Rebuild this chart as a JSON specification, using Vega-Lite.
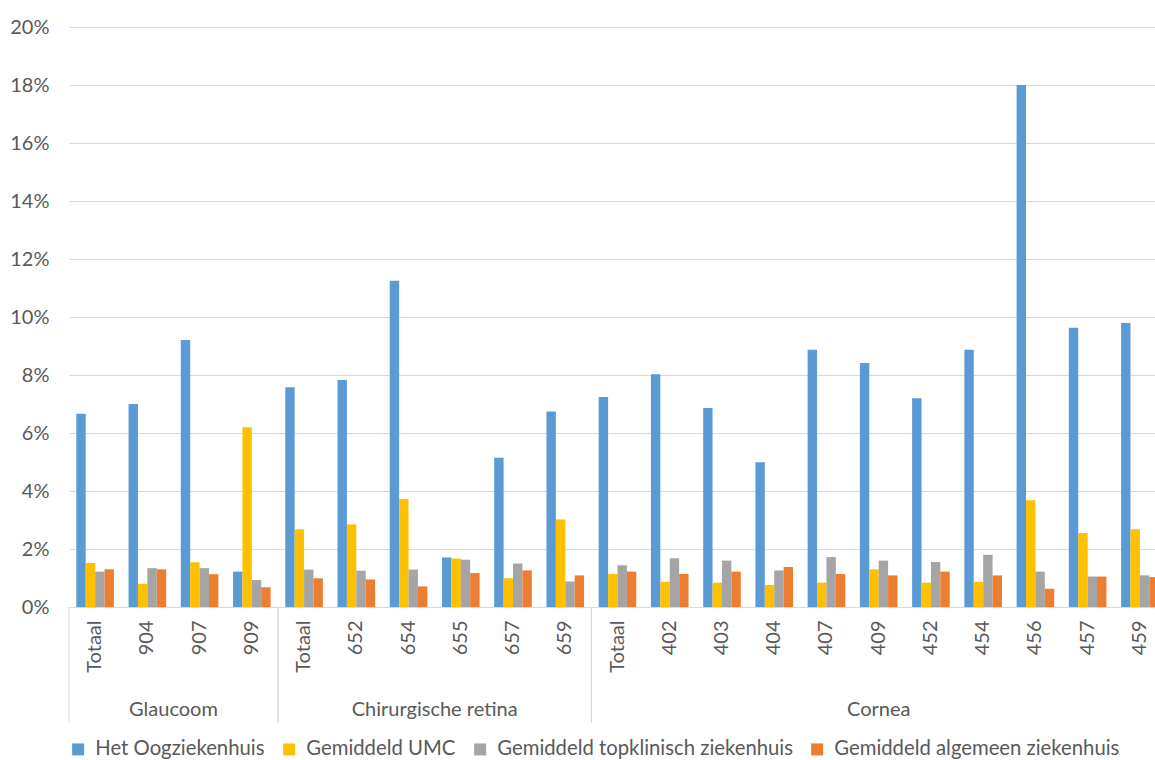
{
  "$schema": "https://vega.github.io/schema/vega-lite/v6.json",
  "width": 1086,
  "height": 580,
  "autosize": {"type": "none"},
  "padding": {"left": 69, "top": 27, "right": 0, "bottom": 153},
  "config": {
    "font": "Lato",
    "view": {"stroke": null},
    "axis": {"labelFont": "Lato", "labelColor": "#595959", "labelFontSize": 20}
  },
  "datasets": {
    "bars": [
      {"k": "Glaucoom|Totaal", "s": "Het Oogziekenhuis", "v": 0.0666},
      {"k": "Glaucoom|Totaal", "s": "Gemiddeld UMC", "v": 0.0152},
      {"k": "Glaucoom|Totaal", "s": "Gemiddeld topklinisch ziekenhuis", "v": 0.0122},
      {"k": "Glaucoom|Totaal", "s": "Gemiddeld algemeen ziekenhuis", "v": 0.0130},
      {"k": "Glaucoom|904", "s": "Het Oogziekenhuis", "v": 0.0700},
      {"k": "Glaucoom|904", "s": "Gemiddeld UMC", "v": 0.0080},
      {"k": "Glaucoom|904", "s": "Gemiddeld topklinisch ziekenhuis", "v": 0.0134},
      {"k": "Glaucoom|904", "s": "Gemiddeld algemeen ziekenhuis", "v": 0.0130},
      {"k": "Glaucoom|907", "s": "Het Oogziekenhuis", "v": 0.0921},
      {"k": "Glaucoom|907", "s": "Gemiddeld UMC", "v": 0.0154},
      {"k": "Glaucoom|907", "s": "Gemiddeld topklinisch ziekenhuis", "v": 0.0134},
      {"k": "Glaucoom|907", "s": "Gemiddeld algemeen ziekenhuis", "v": 0.0113},
      {"k": "Glaucoom|909", "s": "Het Oogziekenhuis", "v": 0.0122},
      {"k": "Glaucoom|909", "s": "Gemiddeld UMC", "v": 0.0620},
      {"k": "Glaucoom|909", "s": "Gemiddeld topklinisch ziekenhuis", "v": 0.0093},
      {"k": "Glaucoom|909", "s": "Gemiddeld algemeen ziekenhuis", "v": 0.0068},
      {"k": "Chirurgische retina|Totaal", "s": "Het Oogziekenhuis", "v": 0.0758},
      {"k": "Chirurgische retina|Totaal", "s": "Gemiddeld UMC", "v": 0.0268},
      {"k": "Chirurgische retina|Totaal", "s": "Gemiddeld topklinisch ziekenhuis", "v": 0.0129},
      {"k": "Chirurgische retina|Totaal", "s": "Gemiddeld algemeen ziekenhuis", "v": 0.0099},
      {"k": "Chirurgische retina|652", "s": "Het Oogziekenhuis", "v": 0.0783},
      {"k": "Chirurgische retina|652", "s": "Gemiddeld UMC", "v": 0.0285},
      {"k": "Chirurgische retina|652", "s": "Gemiddeld topklinisch ziekenhuis", "v": 0.0125},
      {"k": "Chirurgische retina|652", "s": "Gemiddeld algemeen ziekenhuis", "v": 0.0095},
      {"k": "Chirurgische retina|654", "s": "Het Oogziekenhuis", "v": 0.1125},
      {"k": "Chirurgische retina|654", "s": "Gemiddeld UMC", "v": 0.0372},
      {"k": "Chirurgische retina|654", "s": "Gemiddeld topklinisch ziekenhuis", "v": 0.0129},
      {"k": "Chirurgische retina|654", "s": "Gemiddeld algemeen ziekenhuis", "v": 0.0071},
      {"k": "Chirurgische retina|655", "s": "Het Oogziekenhuis", "v": 0.0171},
      {"k": "Chirurgische retina|655", "s": "Gemiddeld UMC", "v": 0.0167},
      {"k": "Chirurgische retina|655", "s": "Gemiddeld topklinisch ziekenhuis", "v": 0.0163},
      {"k": "Chirurgische retina|655", "s": "Gemiddeld algemeen ziekenhuis", "v": 0.0117},
      {"k": "Chirurgische retina|657", "s": "Het Oogziekenhuis", "v": 0.0515},
      {"k": "Chirurgische retina|657", "s": "Gemiddeld UMC", "v": 0.0099},
      {"k": "Chirurgische retina|657", "s": "Gemiddeld topklinisch ziekenhuis", "v": 0.0150},
      {"k": "Chirurgische retina|657", "s": "Gemiddeld algemeen ziekenhuis", "v": 0.0126},
      {"k": "Chirurgische retina|659", "s": "Het Oogziekenhuis", "v": 0.0674},
      {"k": "Chirurgische retina|659", "s": "Gemiddeld UMC", "v": 0.0302},
      {"k": "Chirurgische retina|659", "s": "Gemiddeld topklinisch ziekenhuis", "v": 0.0088},
      {"k": "Chirurgische retina|659", "s": "Gemiddeld algemeen ziekenhuis", "v": 0.0109},
      {"k": "Cornea|Totaal", "s": "Het Oogziekenhuis", "v": 0.0724},
      {"k": "Cornea|Totaal", "s": "Gemiddeld UMC", "v": 0.0114},
      {"k": "Cornea|Totaal", "s": "Gemiddeld topklinisch ziekenhuis", "v": 0.0144},
      {"k": "Cornea|Totaal", "s": "Gemiddeld algemeen ziekenhuis", "v": 0.0122},
      {"k": "Cornea|402", "s": "Het Oogziekenhuis", "v": 0.0803},
      {"k": "Cornea|402", "s": "Gemiddeld UMC", "v": 0.0087},
      {"k": "Cornea|402", "s": "Gemiddeld topklinisch ziekenhuis", "v": 0.0168},
      {"k": "Cornea|402", "s": "Gemiddeld algemeen ziekenhuis", "v": 0.0114},
      {"k": "Cornea|403", "s": "Het Oogziekenhuis", "v": 0.0686},
      {"k": "Cornea|403", "s": "Gemiddeld UMC", "v": 0.0084},
      {"k": "Cornea|403", "s": "Gemiddeld topklinisch ziekenhuis", "v": 0.0160},
      {"k": "Cornea|403", "s": "Gemiddeld algemeen ziekenhuis", "v": 0.0122},
      {"k": "Cornea|404", "s": "Het Oogziekenhuis", "v": 0.0499},
      {"k": "Cornea|404", "s": "Gemiddeld UMC", "v": 0.0076},
      {"k": "Cornea|404", "s": "Gemiddeld topklinisch ziekenhuis", "v": 0.0126},
      {"k": "Cornea|404", "s": "Gemiddeld algemeen ziekenhuis", "v": 0.0138},
      {"k": "Cornea|407", "s": "Het Oogziekenhuis", "v": 0.0887},
      {"k": "Cornea|407", "s": "Gemiddeld UMC", "v": 0.0084},
      {"k": "Cornea|407", "s": "Gemiddeld topklinisch ziekenhuis", "v": 0.0172},
      {"k": "Cornea|407", "s": "Gemiddeld algemeen ziekenhuis", "v": 0.0114},
      {"k": "Cornea|409", "s": "Het Oogziekenhuis", "v": 0.0841},
      {"k": "Cornea|409", "s": "Gemiddeld UMC", "v": 0.0130},
      {"k": "Cornea|409", "s": "Gemiddeld topklinisch ziekenhuis", "v": 0.0160},
      {"k": "Cornea|409", "s": "Gemiddeld algemeen ziekenhuis", "v": 0.0109},
      {"k": "Cornea|452", "s": "Het Oogziekenhuis", "v": 0.0720},
      {"k": "Cornea|452", "s": "Gemiddeld UMC", "v": 0.0084},
      {"k": "Cornea|452", "s": "Gemiddeld topklinisch ziekenhuis", "v": 0.0155},
      {"k": "Cornea|452", "s": "Gemiddeld algemeen ziekenhuis", "v": 0.0122},
      {"k": "Cornea|454", "s": "Het Oogziekenhuis", "v": 0.0887},
      {"k": "Cornea|454", "s": "Gemiddeld UMC", "v": 0.0087},
      {"k": "Cornea|454", "s": "Gemiddeld topklinisch ziekenhuis", "v": 0.0180},
      {"k": "Cornea|454", "s": "Gemiddeld algemeen ziekenhuis", "v": 0.0109},
      {"k": "Cornea|456", "s": "Het Oogziekenhuis", "v": 0.1800},
      {"k": "Cornea|456", "s": "Gemiddeld UMC", "v": 0.0368},
      {"k": "Cornea|456", "s": "Gemiddeld topklinisch ziekenhuis", "v": 0.0122},
      {"k": "Cornea|456", "s": "Gemiddeld algemeen ziekenhuis", "v": 0.0063},
      {"k": "Cornea|457", "s": "Het Oogziekenhuis", "v": 0.0963},
      {"k": "Cornea|457", "s": "Gemiddeld UMC", "v": 0.0255},
      {"k": "Cornea|457", "s": "Gemiddeld topklinisch ziekenhuis", "v": 0.0105},
      {"k": "Cornea|457", "s": "Gemiddeld algemeen ziekenhuis", "v": 0.0105},
      {"k": "Cornea|459", "s": "Het Oogziekenhuis", "v": 0.0979},
      {"k": "Cornea|459", "s": "Gemiddeld UMC", "v": 0.0268},
      {"k": "Cornea|459", "s": "Gemiddeld topklinisch ziekenhuis", "v": 0.0109},
      {"k": "Cornea|459", "s": "Gemiddeld algemeen ziekenhuis", "v": 0.0103}
    ],
    "groups": [
      {"g": "Glaucoom", "from": 0, "to": 4},
      {"g": "Chirurgische retina", "from": 4, "to": 10},
      {"g": "Cornea", "from": 10, "to": 21}
    ]
  },
  "layer": [
    {
      "data": {"name": "bars"},
      "mark": {"type": "bar"},
      "encoding": {
        "x": {
          "field": "k", "type": "nominal", "sort": null,
          "scale": {"paddingInner": 0.28, "paddingOuter": 0.14, "range": [0, 1097]},
          "axis": {
            "title": null,
            "labelExpr": "split(datum.label, '|')[1]",
            "labelAngle": -90,
            "labelAlign": "right",
            "labelBaseline": "middle",
            "labelPadding": 13,
            "ticks": false,
            "domain": true,
            "domainColor": "#d9d9d9",
            "domainWidth": 1,
            "grid": false
          }
        },
        "xOffset": {
          "field": "s", "type": "nominal",
          "sort": ["Het Oogziekenhuis", "Gemiddeld UMC", "Gemiddeld topklinisch ziekenhuis", "Gemiddeld algemeen ziekenhuis"],
          "scale": {"paddingInner": 0, "paddingOuter": 0}
        },
        "y": {
          "field": "v", "type": "quantitative",
          "scale": {"domain": [0, 0.2], "nice": false},
          "axis": {
            "title": null,
            "values": [0, 0.02, 0.04, 0.06, 0.08, 0.1, 0.12, 0.14, 0.16, 0.18, 0.2],
            "format": ".0%",
            "ticks": false,
            "domain": false,
            "gridColor": "#d9d9d9",
            "gridWidth": 1,
            "labelPadding": 20
          }
        },
        "color": {
          "field": "s", "type": "nominal",
          "scale": {
            "domain": ["Het Oogziekenhuis", "Gemiddeld UMC", "Gemiddeld topklinisch ziekenhuis", "Gemiddeld algemeen ziekenhuis"],
            "range": ["#5B9BD5", "#FFC000", "#A5A5A5", "#ED7D31"]
          },
          "legend": {
            "title": null,
            "orient": "none",
            "legendX": -1,
            "legendY": 712,
            "direction": "horizontal",
            "symbolType": "square",
            "symbolSize": 144,
            "symbolStrokeWidth": 0,
            "labelFontSize": 20.3,
            "labelColor": "#595959",
            "labelFont": "Lato",
            "labelOffset": 7,
            "columnPadding": 14,
            "labelLimit": 400
          }
        }
      }
    },
    {
      "data": {"name": "groups"},
      "transform": [{"calculate": "(datum.from + datum.to) / 2", "as": "mid"}],
      "mark": {"type": "text", "fontSize": 20, "color": "#595959", "font": "Lato", "baseline": "middle", "align": "center"},
      "encoding": {
        "x": {"field": "mid", "type": "quantitative", "scale": {"domain": [0, 21], "range": [0, 1097], "nice": false, "zero": false}, "axis": null},
        "y": {"datum": -0.0355},
        "text": {"field": "g"}
      }
    },
    {
      "data": {"name": "groups"},
      "mark": {"type": "rule", "color": "#d9d9d9", "strokeWidth": 1},
      "encoding": {
        "x": {"field": "from", "type": "quantitative", "scale": {"domain": [0, 21], "range": [0, 1097], "nice": false, "zero": false}, "axis": null},
        "y": {"datum": 0},
        "y2": {"datum": -0.04}
      }
    },
    {
      "data": {"name": "groups"},
      "mark": {"type": "rule", "color": "#d9d9d9", "strokeWidth": 1},
      "encoding": {
        "x": {"field": "to", "type": "quantitative", "scale": {"domain": [0, 21], "range": [0, 1097], "nice": false, "zero": false}, "axis": null},
        "y": {"datum": 0},
        "y2": {"datum": -0.04}
      }
    }
  ],
  "resolve": {"scale": {"x": "independent"}}
}
